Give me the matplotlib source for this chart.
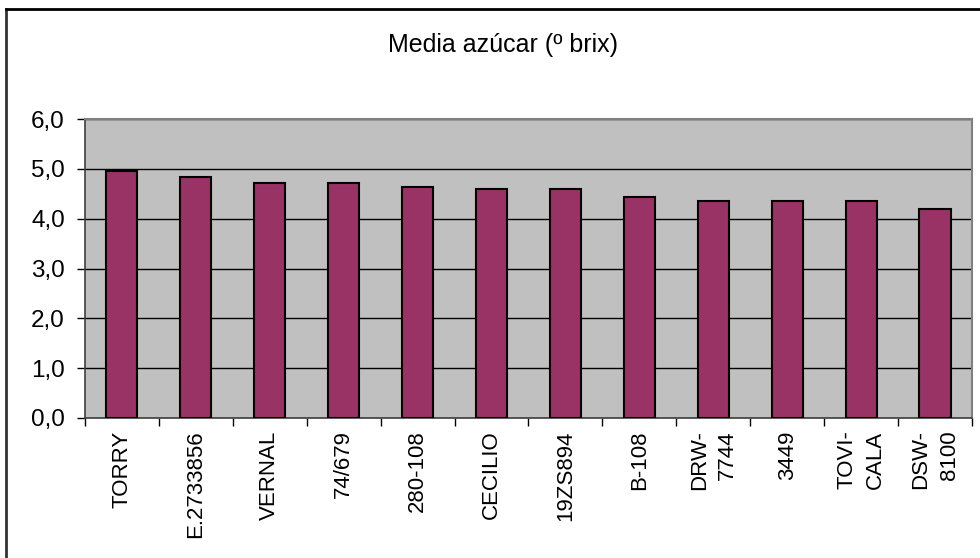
import matplotlib
matplotlib.use('Agg')
import matplotlib.pyplot as plt
from matplotlib.lines import Line2D
from matplotlib.ticker import FuncFormatter, FixedLocator
import numpy as np

plt.rcParams['font.family'] = ['Liberation Sans', 'DejaVu Sans']

variedades = ['TORRY', 'E.2733856', 'VERNAL', '74/679', '280-108', 'CECILIO',
              '19ZS894', 'B-108', 'DRW-\n7744', '3449', 'TOVI-\nCALA', 'DSW-\n8100']
brix = [4.95, 4.84, 4.72, 4.72, 4.63, 4.60, 4.60, 4.44, 4.36, 4.36, 4.36, 4.19]
titulo = 'Media azúcar (º brix)'

fig = plt.figure(figsize=(9.8, 5.58), dpi=100)
fig.subplots_adjust(left=0.0867, right=0.9918, top=0.7867, bottom=0.2509)
ax = fig.add_subplot()

x = np.arange(len(variedades))
ax.set_facecolor('#C0C0C0')
ax.bar(x, brix, width=0.42, color='#993366', edgecolor='black', linewidth=1.5, zorder=3)

ax.set_xlim(-0.5, len(variedades) - 0.5)
ax.set_ylim(0, 6)
ax.set_yticks(np.arange(0, 6.1, 1.0))
ax.yaxis.set_major_formatter(FuncFormatter(lambda v, p: f'{v:.1f}'.replace('.', ',')))
ax.grid(axis='y', color='black', linewidth=1.0, zorder=1)

ax.set_xticks(x)
ax.set_xticklabels(variedades, rotation=90, ha='center', va='top',
                   multialignment='right', fontsize=16, linespacing=1.45)
ax.xaxis.set_minor_locator(FixedLocator(np.arange(-0.5, len(variedades), 1.0)))
ax.tick_params(axis='x', which='major', length=0, pad=9)
ax.tick_params(axis='x', which='minor', length=6, width=1, direction='out')
ax.tick_params(axis='y', which='major', length=6, width=1, direction='out',
               labelsize=17.5, pad=8.5)

for s in ['top', 'right']:
    ax.spines[s].set_color('#808080')
    ax.spines[s].set_linewidth(1.5)
for s in ['left', 'bottom']:
    ax.spines[s].set_color('#404040')
    ax.spines[s].set_linewidth(1.2)

fig.text(0.513, 0.919, titulo, ha='center', va='center', fontsize=18)

# marco del gráfico (solo se ven los bordes superior e izquierdo)
fig.add_artist(Line2D([6 / 980, 6 / 980], [0, 1 - 9 / 558], color='#333333',
                      linewidth=2, transform=fig.transFigure))
fig.add_artist(Line2D([6 / 980, 1], [1 - 9 / 558, 1 - 9 / 558], color='black',
                      linewidth=2, transform=fig.transFigure))

fig.savefig('out.png', dpi=100)
